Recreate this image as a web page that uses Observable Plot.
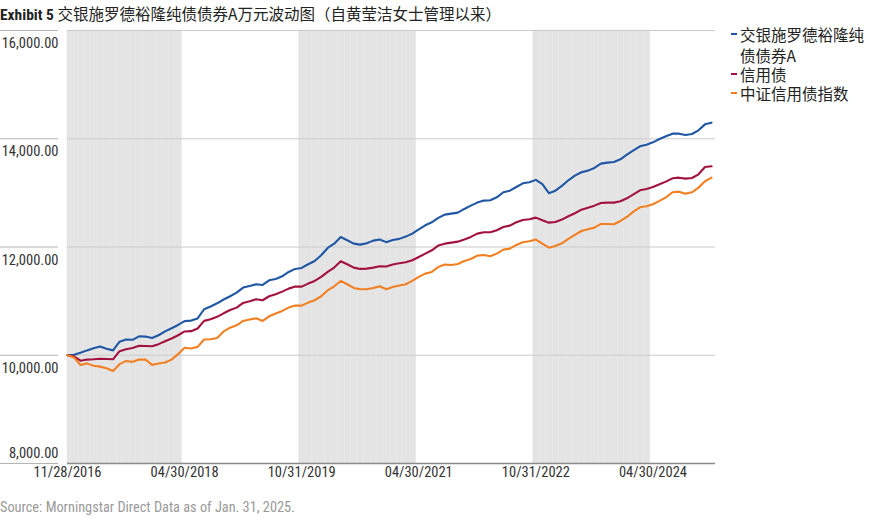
<!DOCTYPE html>
<html><head><meta charset="utf-8">
<script src="https://cdn.jsdelivr.net/npm/d3@7"></script>
<script src="https://cdn.jsdelivr.net/npm/@observablehq/plot@0.6"></script>
<style>
body{margin:0;background:#fff;}
#wrap{position:relative;width:878px;height:519px;overflow:hidden;font-family:"Liberation Sans Narrow","Roboto Condensed","DejaVu Sans Condensed",sans-serif;}
#chart{position:absolute;left:0;top:0;}
#title{position:absolute;left:0;top:2px;font-size:15.5px;color:#222;white-space:nowrap;line-height:22px;}
#title b{font-weight:bold;}
.cjk{font-family:"Liberation Sans Narrow","Noto Sans CJK SC",sans-serif;}
.leg{position:absolute;left:740px;width:136px;font-size:15.5px;color:#222;font-family:"Liberation Sans Narrow","Noto Sans CJK SC",sans-serif;}
.dash{position:absolute;left:731px;width:6px;height:2px;}
#source{position:absolute;left:0;top:498px;font-size:14.3px;color:#9a9a9a;line-height:18px;white-space:nowrap;}
</style></head>
<body>
<div id="wrap">
<div id="chart"></div>
<div id="title"><b>Exhibit 5</b> <span class="cjk">交银施罗德裕隆纯债债券A万元波动图（自黄莹洁女士管理以来）</span></div>
<div id="legend"></div>
<div id="source">Source: Morningstar Direct Data as of Jan. 31, 2025.</div>
</div>
<script>
const seriesNames = ["交银施罗德裕隆纯债债券A", "信用债", "中证信用债指数"];
const seriesColors = ["#1f57a5", "#a3123e", "#f28022"];

const xTickIndex = [0, 18, 36, 54, 72, 90];
const xTickLabels = ["11/28/2016", "04/30/2018", "10/31/2019", "04/30/2021", "10/31/2022", "04/30/2024"];
const yTicks = [8000, 10000, 12000, 14000, 16000];
const shadedPeriods = [[0, 18], [36, 54], [72, 90]];

const fundA = [10000,10010,10045,10090,10130,10160,10120,10090,10250,10290,10285,10350,10345,10320,10370,10440,10500,10560,10630,10640,
10680,10850,10900,10960,11030,11090,11157,11250,11281,11311,11299,11385,11410,11459,11539,11595,11613,11681,11742,11847,
11982,12062,12185,12124,12062,12044,12069,12118,12137,12090,12130,12150,12192,12247,12327,12401,12457,12537,12598,12617,
12635,12703,12764,12820,12857,12863,12918,13011,13041,13109,13177,13195,13240,13160,12995,13040,13130,13232,13318,13380,
13411,13460,13540,13559,13571,13620,13706,13786,13860,13891,13934,13996,14045,14094,14094,14070,14088,14156,14266,14297];

const creditBond = [10000,9980,9900,9920,9925,9935,9930,9925,10075,10110,10135,10175,10170,10165,10205,10260,10310,10370,10440,10445,
10495,10635,10665,10710,10775,10835,10880,10967,10997,11034,11016,11090,11127,11176,11231,11268,11268,11324,11373,11447,
11539,11619,11736,11681,11619,11595,11601,11619,11644,11640,11675,11700,11718,11755,11816,11878,11939,12026,12062,12081,
12099,12137,12186,12247,12272,12272,12309,12370,12395,12457,12500,12512,12543,12493,12450,12463,12506,12567,12623,12690,
12727,12764,12814,12820,12820,12844,12900,12974,13048,13072,13109,13158,13208,13269,13281,13263,13275,13343,13478,13491];

const csiCredit = [10000,9960,9820,9850,9805,9790,9760,9710,9835,9895,9878,9920,9920,9822,9846,9865,9920,10020,10140,10125,
10155,10290,10296,10320,10440,10510,10554,10634,10659,10683,10634,10720,10770,10819,10880,10917,10917,10973,11016,11090,
11200,11274,11373,11311,11244,11219,11219,11244,11274,11220,11260,11290,11311,11373,11447,11508,11539,11631,11675,11668,
11687,11742,11779,11841,11853,11829,11878,11952,11970,12038,12087,12106,12137,12062,11988,12019,12069,12149,12223,12296,
12327,12358,12426,12426,12420,12481,12555,12654,12734,12752,12789,12851,12918,13011,13023,12986,13011,13097,13214,13281];

const allSeries = [fundA, creditBond, csiCredit];
const rows = [];
allSeries.forEach((arr, s) => arr.forEach((v, i) => rows.push({i, v, s: seriesNames[s]})));

const shadeMonths = [];
shadedPeriods.forEach(([a, b]) => { for (let m = a; m < b; m++) shadeMonths.push(m); });

const fmt = d3.format(",.2f");
const font = '"Liberation Sans Narrow","Roboto Condensed",sans-serif';

const chart = Plot.plot({
  width: 878, height: 519,
  marginTop: 30, marginBottom: 56, marginLeft: 67, marginRight: 163,
  style: {fontFamily: font, background: "#fff"},
  x: {domain: [0, fundA.length - 1], range: [67, 711], axis: null, label: null},
  y: {domain: [yTicks[0], yTicks[yTicks.length - 1]], axis: null, label: null},
  color: {domain: seriesNames, range: seriesColors},
  marks: [
    Plot.rect(shadeMonths, {x1: d => Math.max(d - 0.4, 0), x2: d => d + 0.6, fill: "#e4e4e4", stroke: "#e8e8e8", strokeWidth: 0.5}),
    Plot.ruleY(yTicks.slice(1), {stroke: "#cccccc", strokeWidth: 1.2}),
    Plot.axisY(yTicks, {tickSize: 58, dx: -9, tickFormat: () => "", label: null, stroke: "#b5b5b5", strokeWidth: 1.2}),
    Plot.ruleY([yTicks[0]], {stroke: "#8a8a8a", strokeWidth: 1.5}),
    Plot.line(rows, {x: "i", y: "v", z: "s", stroke: "s", strokeWidth: 2.1}),
    Plot.text(yTicks.slice(1), {y: d => d, text: d => fmt(d), frameAnchor: "left", dx: -9, dy: 13, textAnchor: "end", fontSize: 14.5, fill: "#333"}),
    Plot.text([yTicks[0]], {y: d => d, text: d => fmt(d), frameAnchor: "left", dx: -9, dy: -10, textAnchor: "end", fontSize: 14.5, fill: "#333"}),
    Plot.text(xTickIndex, {x: d => d, text: (d, k) => xTickLabels[k], frameAnchor: "bottom", dy: 13, fontSize: 14.5, fill: "#333"})
  ]
});
document.getElementById("chart").appendChild(chart);

const legendTops = [23.5, 65.5, 84.8];
const legendLineHeights = [21, 17, 17];
const dashTops = [32.5, 72.5, 91.5];
const legend = document.getElementById("legend");
seriesNames.forEach((n, k) => {
  const d = document.createElement("div");
  d.className = "dash"; d.style.top = dashTops[k] + "px"; d.style.background = seriesColors[k];
  legend.appendChild(d);
  const t = document.createElement("div");
  t.className = "leg"; t.style.top = legendTops[k] + "px"; t.style.lineHeight = legendLineHeights[k] + "px"; t.textContent = n;
  legend.appendChild(t);
});
</script>
</body></html>
